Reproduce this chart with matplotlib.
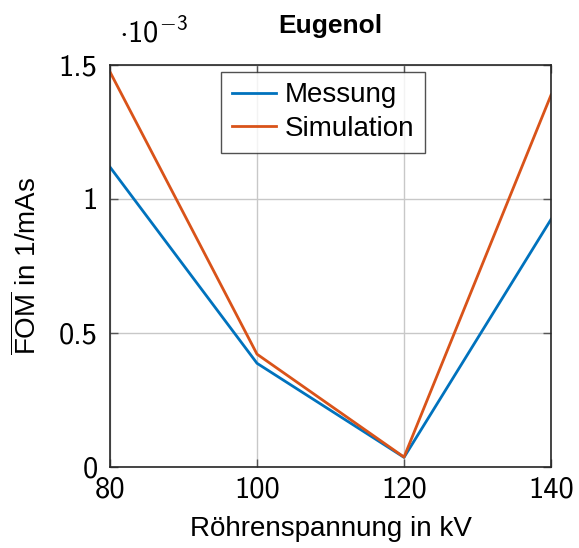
import matplotlib
matplotlib.use("Agg")
import matplotlib.pyplot as plt
from matplotlib.ticker import FixedLocator

plt.rcParams["font.family"] = ["Liberation Sans", "DejaVu Sans"]
plt.rcParams["mathtext.fontset"] = "custom"
plt.rcParams["mathtext.rm"] = "Liberation Sans"
plt.rcParams["mathtext.sf"] = "cmss10"
plt.rcParams["axes.unicode_minus"] = False

# Tube voltage (kV) and FOM values (1/mAs)
voltage = [80, 100, 120, 140]
messung = [1.119e-3, 0.387e-3, 0.036e-3, 0.924e-3]
simulation = [1.474e-3, 0.421e-3, 0.037e-3, 1.388e-3]
x_ticks = [80, 100, 120, 140]
y_ticks = [0, 0.5e-3, 1.0e-3, 1.5e-3]
y_tick_labels = ["0", "0.5", "1", "1.5"]

fig = plt.figure(figsize=(5.79, 5.48), dpi=100)
ax = fig.add_axes([0.19, 0.1478, 0.7617, 0.7336])

ax.plot(voltage, messung, color="#0072BD", lw=2, label="Messung")
ax.plot(voltage, simulation, color="#D95319", lw=2, label="Simulation")

ax.set_xlim(80, 140)
ax.set_ylim(0, 1.5e-3)
ax.xaxis.set_major_locator(FixedLocator(x_ticks))
ax.yaxis.set_major_locator(FixedLocator(y_ticks))
ax.set_xticklabels([str(v) for v in x_ticks])
ax.set_yticklabels(y_tick_labels)
for lbl in ax.get_xticklabels() + ax.get_yticklabels():
    lbl.set_fontfamily("cmss10")
    lbl.set_fontsize(22)

ax.grid(True, color="#c8c8c8", lw=1)
ax.set_axisbelow(True)
ax.tick_params(direction="in", length=6, width=1, color="#555555",
               top=True, right=True)
ax.tick_params(axis="x", pad=7)
ax.tick_params(axis="y", pad=9)
for s in ax.spines.values():
    s.set_color("#262626")
    s.set_linewidth(1.2)

ax.set_xlabel("Röhrenspannung in kV", fontsize=20, labelpad=9)
ax.set_ylabel(r"$\overline{\mathrm{FOM}}$ in 1/mAs", fontsize=20, labelpad=12)
ax.set_title("Eugenol", fontsize=19, fontweight="bold", pad=23)

fig.text(0.205, 0.91, r"$\mathsf{\cdot 10^{-3}}$", fontsize=22, ha="left", va="bottom")

leg = ax.legend(loc="upper left", bbox_to_anchor=(0.252, 0.983), fontsize=20,
                frameon=True, fancybox=False, edgecolor="#262626",
                handlelength=1.6, handletextpad=0.3, borderpad=0.38,
                labelspacing=0.28, borderaxespad=0)
leg.get_frame().set_linewidth(1.0)

fig.savefig("out.png", dpi=100)
